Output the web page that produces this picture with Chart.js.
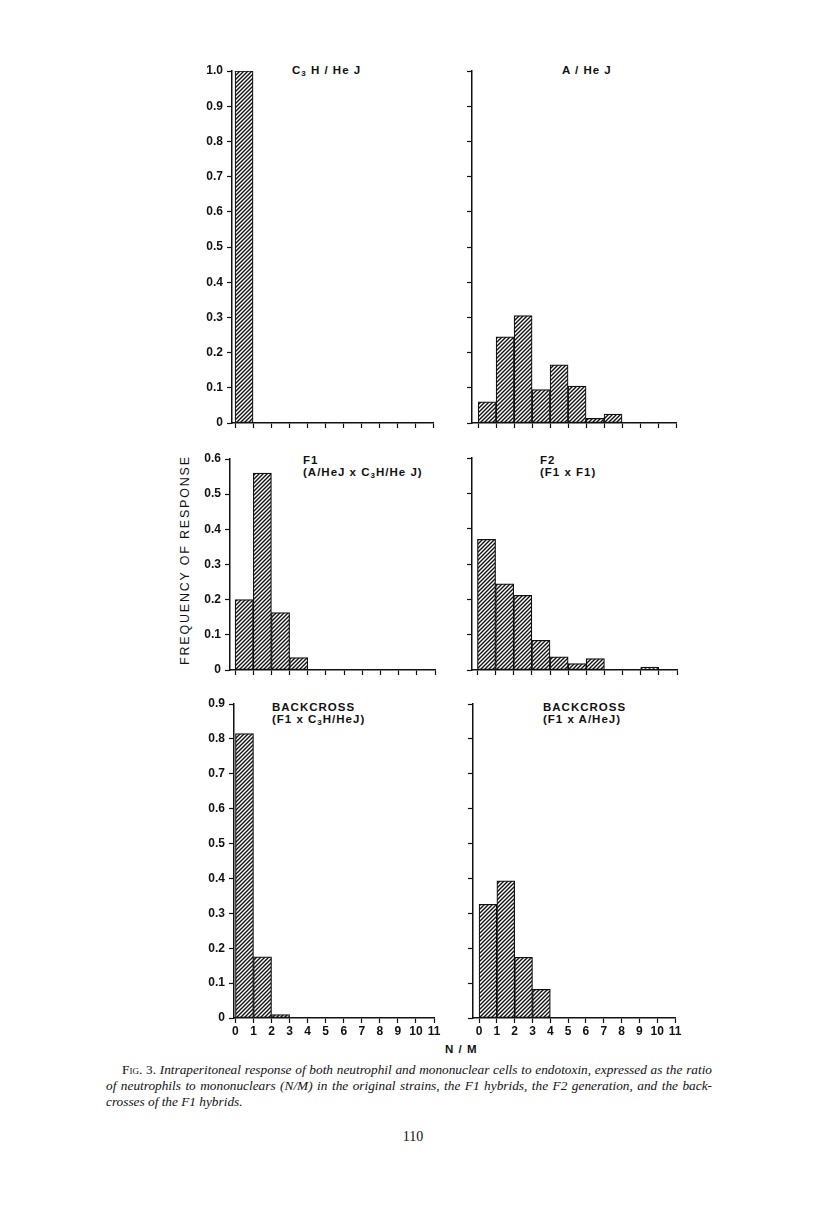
<!DOCTYPE html>
<html>
<head>
<meta charset="utf-8">
<script src="https://cdn.jsdelivr.net/npm/chart.js@4/dist/chart.umd.min.js"></script>
<style>
body { margin: 0; background: #fff; width: 816px; height: 1230px; position: relative; overflow: hidden; font-family: "Liberation Sans", Arial, sans-serif; color: #111; }
canvas { position: absolute; }
.t { position: absolute; font-weight: bold; font-size: 11.5px; letter-spacing: 1px; white-space: nowrap; line-height: 12px; }
.t sub { font-size: 8px; vertical-align: -2px; line-height: 0; }
#ylab { position: absolute; left: 85px; top: 558px; width: 200px; text-align: center; font-size: 12.5px; letter-spacing: 1.8px; transform: rotate(-90deg); white-space: nowrap; }
#xlab { position: absolute; left: 445px; top: 1043px; font-size: 11.5px; font-weight: bold; letter-spacing: 1px; }
.cap { position: absolute; left: 106px; width: 606px; font-family: "Liberation Serif", serif; font-style: italic; font-size: 13.3px; line-height: 16px; text-align: justify; text-align-last: justify; white-space: nowrap; }
.cap.last { text-align-last: left; }
.sc { font-style: normal; font-variant: small-caps; }
#page { position: absolute; left: 396px; top: 1129px; width: 34px; text-align: center; font-family: "Liberation Serif", serif; font-size: 14px; }
</style>
</head>
<body>
<div class="t" style="left:292px;top:64px">C<sub>3</sub> H / He J</div>
<div class="t" style="left:562px;top:64px">A / He J</div>
<div class="t" style="left:303px;top:454px">F1</div>
<div class="t" style="left:303px;top:466px">(A/HeJ x C<sub>3</sub>H/He J)</div>
<div class="t" style="left:540px;top:454px">F2</div>
<div class="t" style="left:540px;top:466px">(F1 x F1)</div>
<div class="t" style="left:272px;top:701px">BACKCROSS</div>
<div class="t" style="left:272px;top:713px">(F1 x C<sub>3</sub>H/HeJ)</div>
<div class="t" style="left:543px;top:701px">BACKCROSS</div>
<div class="t" style="left:543px;top:713px">(F1 x A/HeJ)</div>
<div id="ylab">FREQUENCY OF RESPONSE</div>
<div id="xlab">N / M</div>
<div class="cap" style="top:1062px;text-indent:16px"><span class="sc">Fig. 3.</span> Intraperitoneal response of both neutrophil and mononuclear cells to endotoxin, expressed as the ratio</div>
<div class="cap" style="top:1078px">of neutrophils to mononuclears (N/M) in the original strains, the F1 hybrids, the F2 generation, and the back-</div>
<div class="cap last" style="top:1094px">crosses of the F1 hybrids.</div>
<div id="page">110</div>
<script>
// bins of N/M ratio (bar i covers i..i+1)
const bins = [0, 1, 2, 3, 4, 5, 6, 7, 8, 9, 10];
const xTickLabels = ['0', '1', '2', '3', '4', '5', '6', '7', '8', '9', '10', '11'];

// frequency of response per bin
const c3hValues    = [1.0, 0, 0, 0, 0, 0, 0, 0, 0, 0, 0];
const aheValues    = [0.06, 0.245, 0.305, 0.095, 0.165, 0.105, 0.013, 0.025, 0, 0, 0];
const f1Values     = [0.2, 0.56, 0.163, 0.035, 0, 0, 0, 0, 0, 0, 0];
const f2Values     = [0.37, 0.244, 0.211, 0.084, 0.037, 0.018, 0.032, 0, 0, 0.008, 0];
const bcC3hValues  = [0.815, 0.175, 0.01, 0, 0, 0, 0, 0, 0, 0, 0];
const bcAheValues  = [0.326, 0.393, 0.174, 0.082, 0, 0, 0, 0, 0, 0, 0];

const topYTicks = ['0', '0.1', '0.2', '0.3', '0.4', '0.5', '0.6', '0.7', '0.8', '0.9', '1.0'];
const midYTicks = ['0', '0.1', '0.2', '0.3', '0.4', '0.5', '0.6'];
const botYTicks = ['0', '0.1', '0.2', '0.3', '0.4', '0.5', '0.6', '0.7', '0.8', '0.9'];

// hatch fill for the bars
const pc = document.createElement('canvas');
pc.width = 4; pc.height = 4;
const pg = pc.getContext('2d');
pg.fillStyle = '#fff';
pg.fillRect(0, 0, 4, 4);
pg.strokeStyle = '#111';
pg.lineWidth = 1.4;
pg.beginPath();
pg.moveTo(0, 4); pg.lineTo(4, 0);
pg.moveTo(-1, 1); pg.lineTo(1, -1);
pg.moveTo(3, 5); pg.lineTo(5, 3);
pg.stroke();
const hatch = pg.createPattern(pc, 'repeat');

const panels = [
    { values: c3hValues,   yTicks: topYTicks, left: 232, right: 433, top: 71,  bottom: 423,  xMin: -0.17, showY: true,  showX: false },
    { values: aheValues,   yTicks: topYTicks, left: 472, right: 676, top: 71,  bottom: 423,  xMin: -0.34, showY: false, showX: false },
    { values: f1Values,    yTicks: midYTicks, left: 230, right: 435, top: 459, bottom: 670,  xMin: -0.28, showY: true,  showX: false },
    { values: f2Values,    yTicks: midYTicks, left: 472, right: 677, top: 458, bottom: 670,  xMin: -0.3,  showY: false, showX: false },
    { values: bcC3hValues, yTicks: botYTicks, left: 234, right: 434, top: 704, bottom: 1018, xMin: -0.08, showY: true,  showX: true },
    { values: bcAheValues, yTicks: botYTicks, left: 473, right: 675, top: 704, bottom: 1018, xMin: -0.34, showY: false, showX: true }
];

const tickFont = { family: '"Liberation Sans", Arial, sans-serif', size: 12, weight: 'bold' };

function makeChart(p) {
    const padL = 46, padR = 16, padT = 14, padB = 30;
    const w = (p.right - p.left) + padL + padR;
    const h = (p.bottom - p.top) + padT + padB;
    const cv = document.createElement('canvas');
    cv.width = w; cv.height = h;
    cv.style.width = w + 'px'; cv.style.height = h + 'px';
    cv.style.left = (p.left - padL) + 'px';
    cv.style.top = (p.top - padT) + 'px';
    document.body.appendChild(cv);

    const yMax = parseFloat(p.yTicks[p.yTicks.length - 1]);

    new Chart(cv, {
        type: 'bar',
        data: {
            datasets: [{
                data: p.values.map((v, i) => ({ x: bins[i] + 0.5, y: v })),
                backgroundColor: hatch,
                borderColor: '#111',
                borderWidth: 1.2,
                borderSkipped: false,
                barPercentage: 1,
                categoryPercentage: 1
            }]
        },
        options: {
            responsive: false,
            animation: false,
            layout: { padding: { top: padT, right: padR, left: 0, bottom: 0 } },
            plugins: { legend: { display: false }, tooltip: { enabled: false } },
            scales: {
                x: {
                    type: 'linear',
                    min: p.xMin,
                    max: 11,
                    offset: false,
                    afterBuildTicks: s => { s.ticks = xTickLabels.map((t, i) => ({ value: i })); },
                    afterFit: s => { s.height = padB; },
                    grid: { offset: false, drawOnChartArea: false, drawTicks: true, tickLength: 5, tickColor: '#111', tickWidth: 1.2 },
                    border: { display: true, color: '#111', width: 1.5 },
                    ticks: {
                        display: p.showX,
                        autoSkip: false,
                        maxRotation: 0,
                        padding: 1,
                        color: '#111',
                        font: tickFont,
                        callback: (v, i) => xTickLabels[i]
                    }
                },
                y: {
                    min: 0,
                    max: yMax,
                    afterBuildTicks: s => { s.ticks = p.yTicks.map(t => ({ value: parseFloat(t) })); },
                    afterFit: s => { s.width = padL; },
                    grid: { drawOnChartArea: false, drawTicks: true, tickLength: 5, tickColor: '#111', tickWidth: 1.2 },
                    border: { display: true, color: '#111', width: 1.5 },
                    ticks: {
                        display: p.showY,
                        padding: 4,
                        color: '#111',
                        font: tickFont,
                        callback: (v, i) => p.yTicks[i]
                    }
                }
            }
        }
    });
}

panels.forEach(makeChart);
</script>
</body>
</html>
